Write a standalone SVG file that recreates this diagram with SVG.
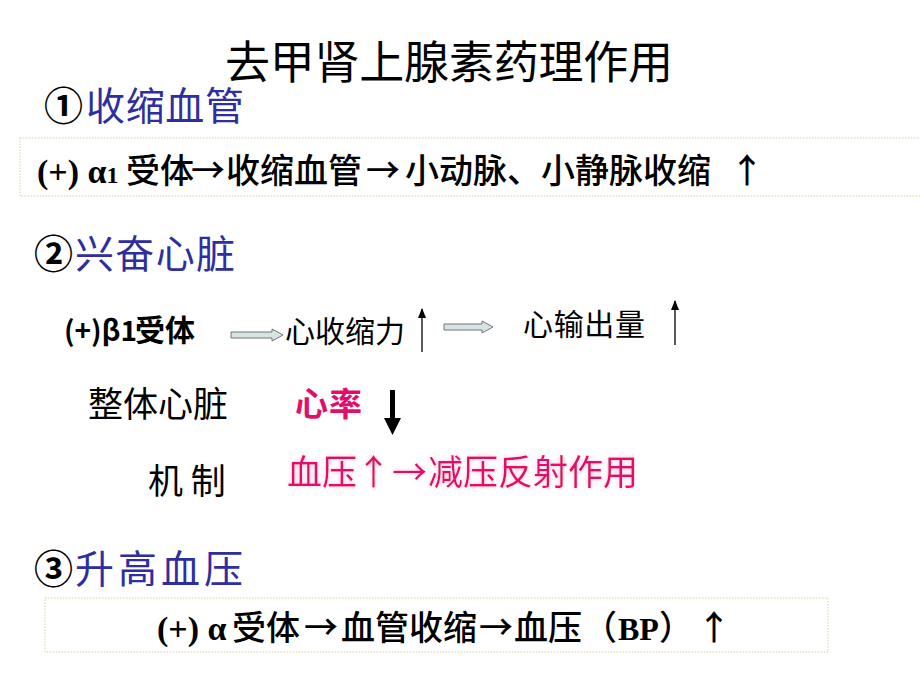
<svg xmlns="http://www.w3.org/2000/svg" width="920" height="690" viewBox="0 0 920 690">
<defs>
<style>
.t{font-family:"Noto Sans CJK SC","Liberation Sans",sans-serif;}
.s{font-family:"Liberation Serif","Noto Sans CJK SC",serif;font-weight:bold;}
.c{font-family:"Noto Sans CJK SC",sans-serif;font-weight:500;font-size:34px;}
.h{font-size:39px;fill:#2e2ea0;}
.n{fill:#000;font-weight:bold;}
.box{fill:none;stroke:#e6dfc0;stroke-width:1.5;stroke-dasharray:1.5 1.5;}
.pk{fill:#e0106a;}
</style>
<marker id="thin" markerWidth="10" markerHeight="8" refX="9" refY="4" orient="auto" markerUnits="userSpaceOnUse" viewBox="0 0 10 8"><path d="M0,0 L10,4 L0,8 Z" fill="#000"/></marker>
<filter id="glow" x="-10%" y="-30%" width="120%" height="160%"><feGaussianBlur in="SourceAlpha" stdDeviation="2" result="b"/><feFlood flood-color="#f8c0d6"/><feComposite in2="b" operator="in"/><feMerge><feMergeNode/><feMergeNode in="SourceGraphic"/></feMerge></filter>
</defs>
<rect width="920" height="690" fill="#fff"/>
<g id="title"><text class="t" x="225" y="79" font-size="45" textLength="448" fill="#000">去甲肾上腺素药理作用</text></g>
<g id="h1"><text class="t h" y="120"><tspan x="44" class="n">①</tspan><tspan x="86" textLength="158">收缩血管</tspan></text></g>
<g id="box1"><rect class="box" x="20" y="138" width="910" height="58"/>
<text y="183" fill="#000"><tspan class="s" x="37" font-size="34">(+) α</tspan><tspan class="s" font-size="24">1</tspan><tspan class="c" x="126" font-size="32">受体</tspan><tspan class="c" x="191">→</tspan><tspan class="c" x="226">收缩血管</tspan><tspan class="c" x="366">→</tspan><tspan class="c" x="405" font-size="35">小动脉、小静脉收缩</tspan><tspan class="c" x="730">↑</tspan></text></g>
<g id="h2"><text class="t h" y="268"><tspan x="34" class="n">②</tspan><tspan x="75" textLength="160">兴奋心脏</tspan></text></g>
<g id="beta"><text y="341" fill="#000" font-weight="bold"><tspan class="t" x="64" font-size="28" font-family="Liberation Sans">(+)β1</tspan><tspan class="t" x="135" font-size="30" textLength="60">受体</tspan></text></g>
<g id="xsl"><text class="t" x="285" y="342" font-size="30" textLength="120" fill="#000">心收缩力</text></g>
<g id="xsc"><text class="t" x="523" y="335" font-size="30" textLength="122" fill="#000">心输出量</text></g>
<g id="zt"><text class="t" x="88" y="417" font-size="35" textLength="140" fill="#000">整体心脏</text></g>
<g id="xl"><text class="t pk" x="295" y="416" font-size="33" font-weight="bold" textLength="67">心率</text></g>
<g id="jz"><text class="t" x="148" y="494" font-size="35" fill="#000">机 制</text></g>
<g id="xy"><text class="t pk" y="485" font-size="35" filter="url(#glow)"><tspan x="287" textLength="70">血压</tspan><tspan x="356">↑</tspan><tspan x="392">→</tspan><tspan x="428" textLength="210">减压反射作用</tspan></text></g>
<g id="h3"><text class="t h" y="583"><tspan x="34" class="n">③</tspan><tspan x="75" textLength="168">升高血压</tspan></text></g>
<g id="box2"><rect class="box" x="45" y="598" width="783" height="54"/>
<text y="640" fill="#000"><tspan class="s" x="157" font-size="34">(+) α</tspan><tspan class="c" x="232">受体</tspan><tspan class="c" x="304">→</tspan><tspan class="c" x="341">血管收缩</tspan><tspan class="c" x="479">→</tspan><tspan class="c" x="514">血压</tspan><tspan class="c" x="583">（</tspan><tspan class="s" x="618" font-size="32">BP</tspan><tspan class="c" x="659">）</tspan><tspan class="c" x="697">↑</tspan></text></g>
<g id="connectors">
<path d="M231,332 H272 V329 L283,335 L272,341 V338 H231 Z" fill="#d6e4e4" stroke="#555" stroke-width="0.8"/>
<path d="M444,324 H482 V321 L493,327 L482,333 V330 H444 Z" fill="#d6e4e4" stroke="#555" stroke-width="0.8"/>
<line x1="422" y1="352" x2="422" y2="309" stroke="#000" stroke-width="1.3" marker-end="url(#thin)"/>
<line x1="675" y1="345" x2="675" y2="301" stroke="#000" stroke-width="1.3" marker-end="url(#thin)"/>
<path d="M390,390 H395 V418 H401 L392.5,435 L384,418 H390 Z" fill="#000"/>
</g>
</svg>
